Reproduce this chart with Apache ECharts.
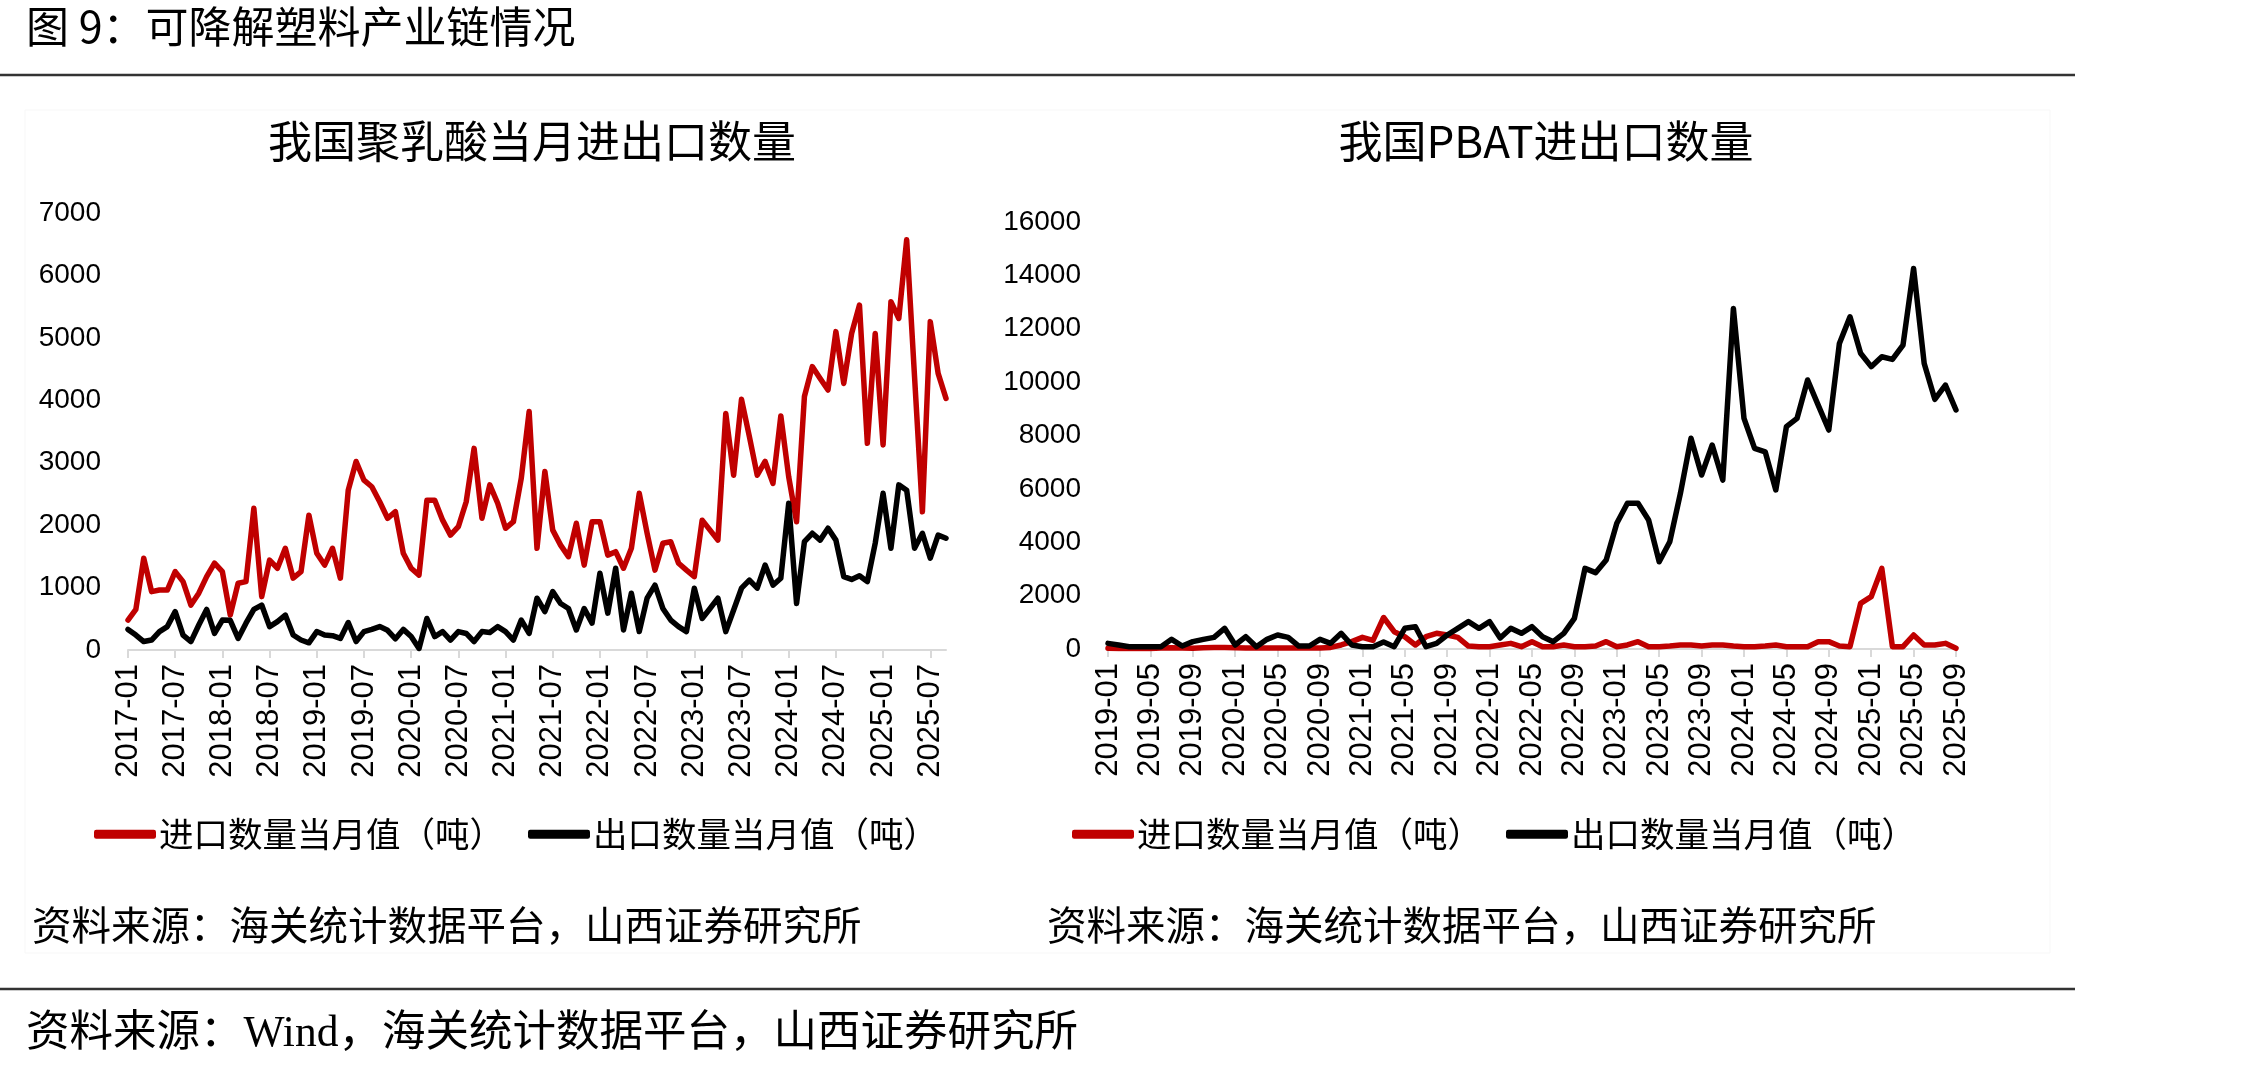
<!DOCTYPE html>
<html>
<head>
<meta charset="utf-8">
<script src="https://cdn.jsdelivr.net/npm/echarts@6/dist/echarts.min.js"></script>
<style>
  html, body { margin: 0; padding: 0; background: #fff; }
  #chart { width: 2255px; height: 1074px; }
</style>
</head>
<body>
<div id="chart"></div>
<script>
// 月份类目
function monthList(year, month, count) {
  var out = [];
  for (var k = 0; k < count; k++) {
    var y = year + Math.floor((month - 1 + k) / 12);
    var m = (month - 1 + k) % 12 + 1;
    out.push(y + '-' + (m < 10 ? '0' + m : m));
  }
  return out;
}

// 聚乳酸 2017-01 ~ 2025-09
var plaMonths = monthList(2017, 1, 105);
var plaImport = [480,650,1470,935,960,960,1255,1095,720,910,
  1175,1390,1255,560,1070,1095,2270,855,1440,1310,
  1630,1150,1255,2160,1550,1360,1630,1150,2560,3020,
  2720,2615,2375,2110,2215,1550,1310,1200,2400,2400,
  2080,1840,1975,2375,3230,2110,2645,2350,1950,2055,
  2750,3820,1630,2860,1920,1680,1495,2030,1360,2055,
  2055,1520,1575,1310,1630,2510,1870,1280,1710,1735,
  1390,1280,1175,2080,1920,1760,3790,2800,4015,3420,
  2800,3020,2670,3750,2775,2055,4060,4540,4350,4165,
  5100,4270,5070,5525,3310,5070,3285,5580,5310,6570,
  4380,2215,5260,4430,4030];
var plaExport = [330,240,135,160,295,375,615,240,135,400,
  650,265,480,475,185,430,650,720,375,455,
  560,240,160,115,295,240,230,185,440,135,
  295,330,375,315,180,330,215,25,505,215,
  295,160,295,265,135,295,280,375,295,160,
  480,265,830,615,935,745,665,320,665,430,
  1230,590,1310,320,910,295,830,1040,665,480,
  375,295,990,505,665,830,295,640,990,1120,
  990,1360,1040,1150,2350,745,1735,1870,1760,1950,
  1760,1175,1130,1190,1095,1710,2510,1630,2645,2560,
  1630,1870,1470,1840,1790];

// PBAT 2019-01 ~ 2025-09
var pbatMonths = monthList(2019, 1, 81);
var pbatImport = [30,20,20,20,20,40,50,40,30,50,
  60,60,50,40,40,40,40,40,40,40,
  40,60,150,275,437,325,1180,650,460,150,
  460,587,525,437,112,87,87,150,212,87,
  275,87,87,150,87,87,112,275,87,150,
  275,87,87,112,150,150,112,150,150,112,
  87,87,112,150,87,87,87,275,275,112,
  87,1710,1960,3020,87,87,525,150,150,212,
  25];
var pbatExport = [212,150,87,87,87,87,362,112,275,362,
  437,775,150,462,87,362,525,437,112,112,
  362,212,587,150,87,87,262,87,775,837,
  87,212,525,775,1025,775,1025,412,775,587,
  837,462,275,587,1150,3020,2860,3335,4710,5460,
  5460,4835,3270,4020,5830,7895,6520,7645,6330,12760,
  8640,7520,7390,5960,8330,8640,10080,9140,8205,11450,
  12450,11080,10580,10950,10850,11390,14260,10700,9355,9890,
  8955];

var seriesNames = ['进口数量当月值（吨）', '出口数量当月值（吨）'];
var cjk = '"Noto Sans CJK SC", sans-serif';
var num = '"Liberation Sans", Arial, sans-serif';

var chart = echarts.init(document.getElementById('chart'));

function xAxisOf(data, step, gridIndex) {
  return {
    type: 'category',
    gridIndex: gridIndex,
    data: data,
    boundaryGap: false,
    axisLine: { lineStyle: { color: '#d9d9d9', width: 2 } },
    axisTick: { show: true, interval: step, length: 8, lineStyle: { color: '#d9d9d9', width: 2 } },
    axisLabel: { interval: step, rotate: 90, margin: 14, color: '#000', fontSize: 31, fontFamily: num },
    splitLine: { show: false }
  };
}

function yAxisOf(max, interval, gridIndex) {
  return {
    type: 'value',
    gridIndex: gridIndex,
    min: 0,
    max: max,
    interval: interval,
    axisLine: { show: false },
    axisTick: { show: false },
    splitLine: { show: false },
    axisLabel: {
      margin: 27, color: '#000', fontSize: 28, fontFamily: num,
      formatter: function (v) { return String(v); }
    }
  };
}

function lineOf(name, data, color, idx) {
  return {
    name: name,
    type: 'line',
    xAxisIndex: idx,
    yAxisIndex: idx,
    data: data,
    symbol: 'none',
    lineStyle: { color: color, width: 5.5, cap: 'round', join: 'round' },
    itemStyle: { color: color }
  };
}

function legendOf(left) {
  return {
    data: seriesNames,
    left: left,
    top: 812,
    icon: 'roundRect',
    itemWidth: 62,
    itemHeight: 9,
    itemGap: 24,
    selectedMode: false,
    textStyle: { fontSize: 34.5, fontFamily: cjk, color: '#000', padding: [0, 0, 0, -2] }
  };
}

var option = {
  backgroundColor: '#fff',
  animation: false,
  grid: [
    { left: 128, top: 213, width: 818, height: 437 },
    { left: 1108, top: 222, width: 848, height: 427 }
  ],
  xAxis: [xAxisOf(plaMonths, 5, 0), xAxisOf(pbatMonths, 3, 1)],
  yAxis: [yAxisOf(7000, 1000, 0), yAxisOf(16000, 2000, 1)],
  legend: [legendOf(89), legendOf(1067)],
  series: [
    lineOf(seriesNames[0], plaImport, '#c00000', 0),
    lineOf(seriesNames[1], plaExport, '#000000', 0),
    lineOf(seriesNames[0], pbatImport, '#c00000', 1),
    lineOf(seriesNames[1], pbatExport, '#000000', 1)
  ],
  graphic: [
    { type: 'text', x: 26, y: 27, style: { text: '图 9：可降解塑料产业链情况', fontSize: 43, fontFamily: cjk, fill: '#000', verticalAlign: 'middle' } },
    { type: 'line', shape: { x1: 0, y1: 75, x2: 2075, y2: 75 }, style: { stroke: '#333', lineWidth: 2.5 } },
    { type: 'rect', shape: { x: 25, y: 110, width: 2025, height: 843 }, style: { fill: 'none', stroke: '#f7f7f7', lineWidth: 1 } },
    { type: 'text', x: 532, y: 141, style: { text: '我国聚乳酸当月进出口数量', fontSize: 44, fontFamily: cjk, fill: '#000', align: 'center', verticalAlign: 'middle' } },
    { type: 'text', x: 1546, y: 141, style: { text: '我国PBAT进出口数量', fontSize: 44, fontFamily: cjk, fill: '#000', align: 'center', verticalAlign: 'middle' } },
    { type: 'text', x: 32, y: 925, style: { text: '资料来源：海关统计数据平台，山西证券研究所', fontSize: 39.5, fontFamily: cjk, fill: '#000', verticalAlign: 'middle' } },
    { type: 'text', x: 1047, y: 925, style: { text: '资料来源：海关统计数据平台，山西证券研究所', fontSize: 39.5, fontFamily: cjk, fill: '#000', verticalAlign: 'middle' } },
    { type: 'line', shape: { x1: 0, y1: 989, x2: 2075, y2: 989 }, style: { stroke: '#333', lineWidth: 2.5 } },
    { type: 'text', x: 26, y: 1035, style: { text: '资料来源：Wind，海关统计数据平台，山西证券研究所', fontSize: 43.5, fontFamily: '"Liberation Serif", "Noto Sans CJK SC", serif', fill: '#000', verticalAlign: 'middle' } }
  ]
};

chart.setOption(option);
window.addEventListener('resize', function () { chart.resize(); });
</script>
</body>
</html>
